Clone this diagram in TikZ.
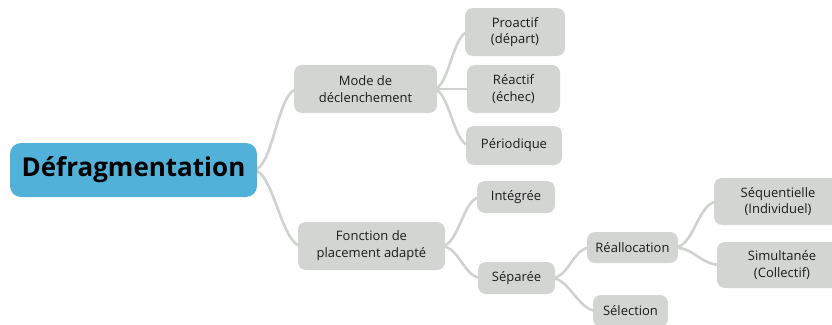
\documentclass[tikz,border=0pt]{standalone}
\usepackage{fontspec}
\setmainfont{Open Sans}
\usetikzlibrary{calc,backgrounds}
\definecolor{boxgrey}{HTML}{D3D5D3}
\definecolor{conngrey}{HTML}{D0D2D0}
\definecolor{rootblue}{HTML}{52B1D8}
\definecolor{txt}{HTML}{1C1C1C}
\tikzset{
  leaf/.style={fill=boxgrey, rounded corners=8pt, text=txt, align=center,
    font=\fontsize{13}{16.8}\selectfont, inner sep=0pt},
  rootbox/.style={fill=rootblue, rounded corners=11pt, text=black,
    font=\fontsize{26}{28}\selectfont\bfseries, inner sep=0pt},
  conn/.style={draw=conngrey, line width=2.6pt, line cap=round},
}
\newcommand{\branch}[3]{% parent, child, control offset
  \draw[conn] ($(#1.east)+(-4,0)$) .. controls +(#3,0) and +(-#3,0) .. ($(#2.west)+(4,0)$);}
\begin{document}
\begin{tikzpicture}[x=1pt,y=-1pt]
\useasboundingbox (0,0) rectangle (832,324);
\clip (0,0) rectangle (832,324);
% nodes
\node[rootbox, minimum width=247, minimum height=54] (root) at (133.5,170) {Défragmentation};
\node[leaf, minimum width=143, minimum height=48] (mode) at (365.5,89) {Mode de\\déclenchement};
\node[leaf, minimum width=100, minimum height=48] (pro) at (515,32) {Proactif\\(départ)};
\node[leaf, minimum width=93, minimum height=48] (rea) at (513.5,89) {Réactif\\(échec)};
\node[leaf, minimum width=96, minimum height=39] (per) at (514,145.5) {Périodique};
\node[leaf, minimum width=147, minimum height=48] (fon) at (371.5,246) {Fonction de\\placement adapté};
\node[leaf, minimum width=78, minimum height=32] (int) at (516,197) {Intégrée};
\node[leaf, minimum width=77, minimum height=32] (sep) at (516.5,278) {Séparée};
\node[leaf, minimum width=91, minimum height=31] (real) at (632.5,247.5) {Réallocation};
\node[leaf, minimum width=75, minimum height=32] (sel) at (630.5,311) {Sélection};
\node[leaf, minimum width=128, minimum height=47] (seq) at (778,201.5) {Séquentielle\\(Individuel)};
\node[leaf, minimum width=130, minimum height=46] (sim) at (782,265) {Simultanée\\(Collectif)};
% connectors (behind the boxes)
\begin{scope}[on background layer]
\branch{root}{mode}{20}
\branch{root}{fon}{20}
\branch{mode}{pro}{16}
\branch{mode}{rea}{16}
\branch{mode}{per}{16}
\branch{fon}{int}{18}
\branch{fon}{sep}{18}
\branch{sep}{real}{18}
\branch{sep}{sel}{18}
\branch{real}{seq}{20}
\branch{real}{sim}{20}
\end{scope}
\end{tikzpicture}
\end{document}
